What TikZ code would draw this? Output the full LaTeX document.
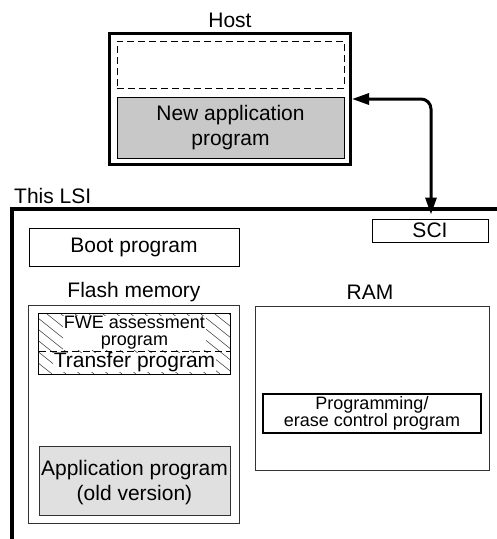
\documentclass[tikz,border=0pt]{standalone}
\usepackage{fontspec}
\setmainfont{Liberation Sans}
\usetikzlibrary{arrows.meta}
\definecolor{newgray}{RGB}{200,200,200}
\definecolor{oldgray}{RGB}{224,224,224}
\definecolor{hatchgray}{RGB}{80,80,80}
\begin{document}
\begin{tikzpicture}[x=1pt,y=-1pt,
  box/.style={draw, inner sep=0, line width=1pt},
  lbl/.style={font=\fontsize{21}{25}\selectfont, align=center, inner sep=0},
  smalllbl/.style={font=\fontsize{18}{17}\selectfont, align=center, inner sep=0},
  longdash/.style={dash pattern=on 7pt off 4pt},
  bothtips/.style={{Triangle[length=17pt,width=11pt]}-{Triangle[length=17pt,width=11pt]}},
]
\useasboundingbox[fill=white] (0,0) rectangle (497,539);

% Host
\node[lbl] (hostlbl) at (230,20) {Host};
\node[draw, line width=3pt, minimum width=241pt, minimum height=131pt, inner sep=0] (host) at (230,99) {};
\node[draw, longdash, line width=0.8pt, minimum width=227pt, minimum height=47pt, inner sep=0] (empty) at (230.5,64.5) {};
\node[box, line width=0.8pt, fill=newgray, minimum width=227pt, minimum height=61pt] (newapp) at (230.5,127.5) {};
\node[lbl] (newapptxt) at (newapp) {New application\\program};

% LSI frame
\draw[line width=3.5pt] (12,545) -- (12,209) -- (505,209);
\node[lbl, anchor=west] (lsilbl) at (14,196) {This LSI};

% SCI
\node[box, minimum width=116pt, minimum height=23pt] (sci) at (430,230.5) {};
\node[lbl] (scitxt) at (sci) {SCI};

% connector
\draw[line width=3pt, rounded corners=10pt, bothtips] (host.east) -| ([xshift=1pt,yshift=4pt]sci.north);

% Boot program
\node[box, minimum width=210pt, minimum height=38pt] (boot) at (134,247) {};
\node[lbl] (boottxt) at (boot) {Boot program};

% Flash memory
\node[lbl] (flashlbl) at (134,292) {Flash memory};
\node[box, draw=black!80, minimum width=211pt, minimum height=218pt] (flash) at (133.5,414) {};

% hatched area
\node[minimum width=191pt, minimum height=60pt, inner sep=0] (hatch) at (134.5,344) {};
\begin{scope}
  \clip (hatch.north west) rectangle (hatch.south east);
  \foreach \i in {-8,...,20} {
    \draw[hatchgray, line width=0.6pt] ({39+\i*14-20},314) -- ++(80,64);
  }
\end{scope}
\draw[line width=0.8pt] (hatch.north west) rectangle (hatch.south east);
\draw[longdash, line width=0.8pt] (hatch.west |- 0,351) -- (hatch.east |- 0,351);
\node[smalllbl, fill=white, inner xsep=1pt, inner ysep=0pt] (fwe) at (134.5,333) {FWE assessment\\program};
\node[lbl, fill=white, inner xsep=1pt, inner ysep=0pt] (transfer) at (134.5,362.5) {Transfer program};

% Old application
\node[box, draw=black!80, fill=oldgray, minimum width=191pt, minimum height=69pt] (oldapp) at (134.5,480.5) {};
\node[lbl, text depth=0pt] (oldapptxt) at (oldapp) {Application program\\(old version)};

% RAM
\node[lbl] (ramlbl) at (370,292) {RAM};
\node[box, draw=black!80, minimum width=234pt, minimum height=164pt] (ram) at (372,388) {};
\node[box, line width=1.5pt, minimum width=218pt, minimum height=39pt] (pe) at (372,413.5) {};
\node[smalllbl] (petxt) at (pe) {Programming/\\erase control program};
\end{tikzpicture}
\end{document}
